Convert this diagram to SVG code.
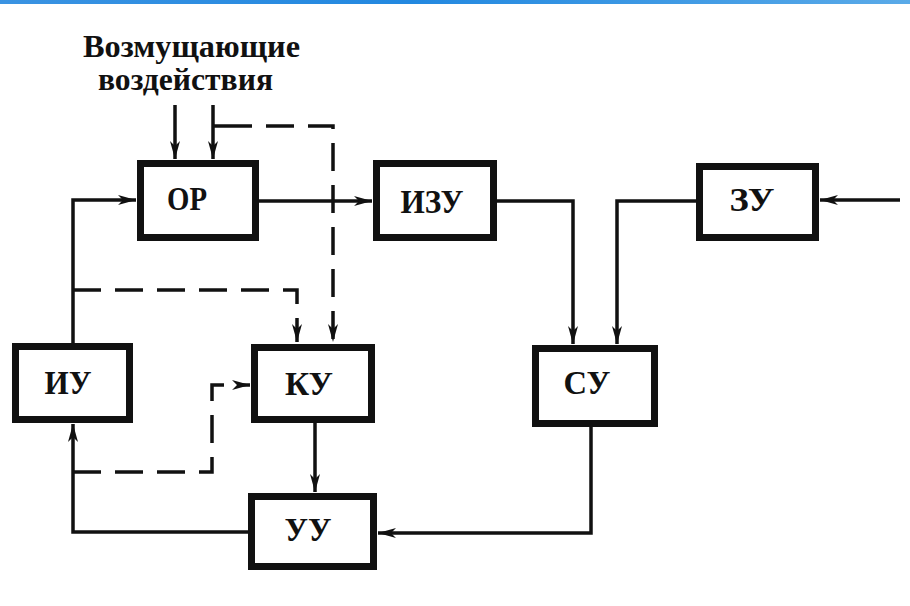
<svg xmlns="http://www.w3.org/2000/svg" width="910" height="606" viewBox="0 0 910 606">
<defs>
<linearGradient id="bar" x1="0" y1="0" x2="1" y2="0">
<stop offset="0" stop-color="#3a93e2"/>
<stop offset="0.45" stop-color="#2288e0"/>
<stop offset="1" stop-color="#5aaae8"/>
</linearGradient>
<marker id="arr" viewBox="0 0 18 10" refX="18" refY="5" markerWidth="18" markerHeight="10" markerUnits="userSpaceOnUse" orient="auto">
<path d="M0,0 L18,5 L0,10 L5,5 Z" fill="#111"/>
</marker>
</defs>
<style>
.box{fill:#fff;stroke:#111;stroke-width:7}
.lbl{font-family:"Liberation Serif","DejaVu Serif",serif;font-weight:bold;font-size:34px;fill:#111}
.ttl{font-family:"Liberation Serif","DejaVu Serif",serif;font-weight:bold;font-size:31px;fill:#111}
.ln{fill:none;stroke:#111;stroke-width:3.5}
.dsh{fill:none;stroke:#111;stroke-width:3.5;stroke-dasharray:28 14}
</style>
<rect x="0" y="0" width="910" height="606" fill="#fff"/>
<rect x="0" y="0" width="910" height="4" fill="url(#bar)"/>
<g id="title">
<text class="ttl" x="83" y="57" textLength="217" lengthAdjust="spacingAndGlyphs">Возмущающие</text>
<text class="ttl" x="98" y="90" textLength="175" lengthAdjust="spacingAndGlyphs">воздействия</text>
</g>
<g id="connectors">
<path class="ln" d="M175,105 V159" marker-end="url(#arr)"/>
<path class="ln" d="M213,105 V159" marker-end="url(#arr)"/>
<path class="ln" d="M213,126 H224"/>
<path class="dsh" d="M224,126 H333 V342" marker-end="url(#arr)"/>
<path class="ln" d="M73,343 V200 H136" marker-end="url(#arr)"/>
<path class="ln" d="M259,201 H372" marker-end="url(#arr)"/>
<path class="dsh" d="M73,290 H297 V342" marker-end="url(#arr)"/>
<path class="ln" d="M497,201 H573 V344" marker-end="url(#arr)"/>
<path class="ln" d="M696,201 H617 V344" marker-end="url(#arr)"/>
<path class="ln" d="M900,200 H820" marker-end="url(#arr)"/>
<path class="ln" d="M591,427 V533 H378" marker-end="url(#arr)"/>
<path class="ln" d="M315,423 V492" marker-end="url(#arr)"/>
<path class="ln" d="M248,532 H73 V424" marker-end="url(#arr)"/>
<path class="dsh" d="M73,472 H212 V385 H250" marker-end="url(#arr)"/>
</g>
<g id="OR">
<rect class="box" x="140.5" y="163.5" width="115" height="74"/>
<text class="lbl" x="187" y="210" text-anchor="middle" textLength="40" lengthAdjust="spacingAndGlyphs">ОР</text>
</g>
<g id="IZU">
<rect class="box" x="376.5" y="163.5" width="117" height="74"/>
<text class="lbl" x="432" y="213" text-anchor="middle" textLength="63" lengthAdjust="spacingAndGlyphs">ИЗУ</text>
</g>
<g id="ZU">
<rect class="box" x="699.5" y="166.5" width="116" height="71"/>
<text class="lbl" x="752" y="211" text-anchor="middle" textLength="45" lengthAdjust="spacingAndGlyphs">ЗУ</text>
</g>
<g id="IU">
<rect class="box" x="15.5" y="346.5" width="114" height="73"/>
<text class="lbl" x="68" y="394" text-anchor="middle" textLength="47" lengthAdjust="spacingAndGlyphs">ИУ</text>
</g>
<g id="KU">
<rect class="box" x="254.5" y="347.5" width="117" height="72"/>
<text class="lbl" x="309" y="395" text-anchor="middle" textLength="48" lengthAdjust="spacingAndGlyphs">КУ</text>
</g>
<g id="SU">
<rect class="box" x="535.5" y="348.5" width="119" height="75"/>
<text class="lbl" x="587" y="394" text-anchor="middle" textLength="47" lengthAdjust="spacingAndGlyphs">СУ</text>
</g>
<g id="UU">
<rect class="box" x="251.5" y="496.5" width="122" height="70"/>
<text class="lbl" x="308" y="541" text-anchor="middle" textLength="47" lengthAdjust="spacingAndGlyphs">УУ</text>
</g>
</svg>
